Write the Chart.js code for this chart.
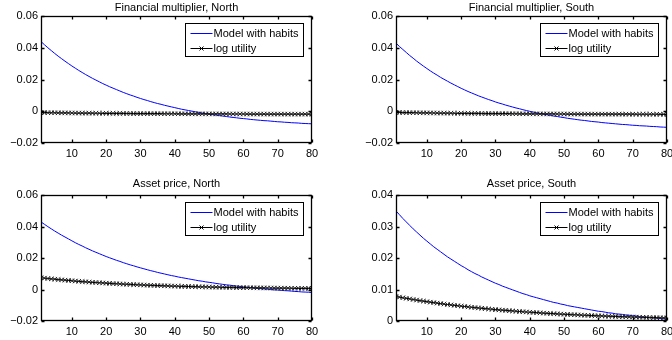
<!DOCTYPE html>
<html>
<head>
<meta charset="utf-8">
<script src="https://cdn.jsdelivr.net/npm/chart.js@4.4.0/dist/chart.umd.min.js"></script>
<style>
    body { margin: 0; background: #fff; }
    .panel { position: absolute; }
</style>
</head>
<body>
<div class="panel" style="left:0;top:0;width:336px;height:170px"><canvas id="fmNorthChart"></canvas></div>
<div class="panel" style="left:336px;top:0;width:336px;height:170px"><canvas id="fmSouthChart"></canvas></div>
<div class="panel" style="left:0;top:176px;width:336px;height:164px"><canvas id="apNorthChart"></canvas></div>
<div class="panel" style="left:336px;top:176px;width:336px;height:164px"><canvas id="apSouthChart"></canvas></div>
<script>
// quarters after the shock
const periods = Array.from({ length: 80 }, (_, i) => i + 1);
const xTicks = [10, 20, 30, 40, 50, 60, 70, 80];

const yTicksWide = [-0.02, 0, 0.02, 0.04, 0.06];
const yLabelsWide = ['−0.02', '0', '0.02', '0.04', '0.06'];
const yTicksSmall = [0, 0.01, 0.02, 0.03, 0.04];
const yLabelsSmall = ['0', '0.01', '0.02', '0.03', '0.04'];

const seriesNames = ['Model with habits', 'log utility'];

// Financial multiplier, North
const fmNorthHabits = [
    0.0440, 0.0420, 0.0401, 0.0383, 0.0365, 0.0348, 0.0332, 0.0316, 0.0301, 0.0286,
    0.0272, 0.0258, 0.0245, 0.0232, 0.0220, 0.0208, 0.0197, 0.0186, 0.0175, 0.0165,
    0.0155, 0.0146, 0.0137, 0.0128, 0.0119, 0.0111, 0.0103, 0.0096, 0.0088, 0.0081,
    0.0074, 0.0068, 0.0061, 0.0055, 0.0049, 0.0044, 0.0038, 0.0033, 0.0028, 0.0023,
    0.0018, 0.0013, 0.0009, 0.0005, 0.0001, -0.0003, -0.0007, -0.0011, -0.0014, -0.0018,
    -0.0021, -0.0024, -0.0027, -0.0030, -0.0033, -0.0036, -0.0039, -0.0041, -0.0044, -0.0046,
    -0.0048, -0.0051, -0.0053, -0.0055, -0.0057, -0.0059, -0.0060, -0.0062, -0.0064, -0.0066,
    -0.0067, -0.0069, -0.0070, -0.0072, -0.0073, -0.0074, -0.0076, -0.0077, -0.0078, -0.0079
];
const fmNorthLog = [
    -0.00080, -0.00083, -0.00087, -0.00090, -0.00093, -0.00096, -0.00098, -0.00101, -0.00104, -0.00106,
    -0.00109, -0.00111, -0.00114, -0.00116, -0.00118, -0.00120, -0.00122, -0.00124, -0.00126, -0.00128,
    -0.00130, -0.00132, -0.00134, -0.00135, -0.00137, -0.00139, -0.00140, -0.00142, -0.00143, -0.00145,
    -0.00146, -0.00147, -0.00148, -0.00150, -0.00151, -0.00152, -0.00153, -0.00154, -0.00155, -0.00156,
    -0.00157, -0.00158, -0.00159, -0.00160, -0.00161, -0.00162, -0.00163, -0.00163, -0.00164, -0.00165,
    -0.00166, -0.00166, -0.00167, -0.00168, -0.00168, -0.00169, -0.00170, -0.00170, -0.00171, -0.00171,
    -0.00172, -0.00173, -0.00173, -0.00174, -0.00174, -0.00175, -0.00175, -0.00176, -0.00176, -0.00176,
    -0.00177, -0.00177, -0.00178, -0.00178, -0.00178, -0.00179, -0.00179, -0.00179, -0.00179, -0.00180
];

// Financial multiplier, South
const fmSouthHabits = [
    0.0430, 0.0409, 0.0390, 0.0371, 0.0352, 0.0335, 0.0317, 0.0301, 0.0285, 0.0270,
    0.0255, 0.0241, 0.0228, 0.0214, 0.0202, 0.0190, 0.0178, 0.0167, 0.0156, 0.0145,
    0.0135, 0.0125, 0.0116, 0.0107, 0.0098, 0.0090, 0.0082, 0.0074, 0.0067, 0.0059,
    0.0052, 0.0046, 0.0039, 0.0033, 0.0027, 0.0021, 0.0016, 0.0010, 0.0005, 0.0000,
    -0.0005, -0.0009, -0.0014, -0.0018, -0.0022, -0.0026, -0.0030, -0.0033, -0.0037, -0.0040,
    -0.0044, -0.0047, -0.0050, -0.0053, -0.0056, -0.0058, -0.0061, -0.0064, -0.0066, -0.0068,
    -0.0071, -0.0073, -0.0075, -0.0077, -0.0079, -0.0081, -0.0083, -0.0084, -0.0086, -0.0088,
    -0.0089, -0.0091, -0.0092, -0.0093, -0.0095, -0.0096, -0.0097, -0.0099, -0.0100, -0.0101
];
const fmSouthLog = [
    -0.00070, -0.00074, -0.00078, -0.00081, -0.00085, -0.00088, -0.00092, -0.00095, -0.00098, -0.00101,
    -0.00104, -0.00107, -0.00110, -0.00113, -0.00115, -0.00118, -0.00120, -0.00123, -0.00125, -0.00127,
    -0.00129, -0.00131, -0.00134, -0.00136, -0.00137, -0.00139, -0.00141, -0.00143, -0.00145, -0.00146,
    -0.00148, -0.00149, -0.00151, -0.00152, -0.00154, -0.00155, -0.00157, -0.00158, -0.00159, -0.00160,
    -0.00162, -0.00163, -0.00164, -0.00165, -0.00166, -0.00167, -0.00168, -0.00169, -0.00170, -0.00171,
    -0.00172, -0.00173, -0.00173, -0.00174, -0.00175, -0.00176, -0.00176, -0.00177, -0.00178, -0.00178,
    -0.00179, -0.00180, -0.00180, -0.00181, -0.00182, -0.00182, -0.00183, -0.00183, -0.00184, -0.00184,
    -0.00185, -0.00185, -0.00186, -0.00186, -0.00186, -0.00187, -0.00187, -0.00188, -0.00188, -0.00188
];

// Asset price, North
const apNorthHabits = [
    0.0430, 0.0415, 0.0400, 0.0386, 0.0372, 0.0359, 0.0346, 0.0334, 0.0322, 0.0310,
    0.0298, 0.0287, 0.0277, 0.0266, 0.0256, 0.0246, 0.0237, 0.0228, 0.0219, 0.0210,
    0.0202, 0.0194, 0.0186, 0.0179, 0.0171, 0.0164, 0.0157, 0.0151, 0.0144, 0.0138,
    0.0132, 0.0126, 0.0120, 0.0115, 0.0109, 0.0104, 0.0099, 0.0094, 0.0089, 0.0085,
    0.0080, 0.0076, 0.0072, 0.0068, 0.0064, 0.0060, 0.0056, 0.0053, 0.0049, 0.0046,
    0.0043, 0.0039, 0.0036, 0.0033, 0.0030, 0.0028, 0.0025, 0.0022, 0.0020, 0.0017,
    0.0015, 0.0013, 0.0010, 0.0008, 0.0006, 0.0004, 0.0002, 0.0000, -0.0002, -0.0003,
    -0.0005, -0.0007, -0.0008, -0.0010, -0.0012, -0.0013, -0.0015, -0.0016, -0.0017, -0.0019
];
const apNorthLog = [
    0.00750, 0.00726, 0.00703, 0.00680, 0.00658, 0.00637, 0.00617, 0.00597, 0.00578, 0.00560,
    0.00542, 0.00525, 0.00508, 0.00492, 0.00476, 0.00461, 0.00447, 0.00433, 0.00419, 0.00406,
    0.00393, 0.00381, 0.00369, 0.00357, 0.00346, 0.00336, 0.00325, 0.00315, 0.00305, 0.00296,
    0.00287, 0.00278, 0.00270, 0.00261, 0.00253, 0.00246, 0.00238, 0.00231, 0.00224, 0.00217,
    0.00211, 0.00205, 0.00198, 0.00193, 0.00187, 0.00181, 0.00176, 0.00171, 0.00166, 0.00161,
    0.00156, 0.00152, 0.00148, 0.00143, 0.00139, 0.00135, 0.00132, 0.00128, 0.00124, 0.00121,
    0.00118, 0.00114, 0.00111, 0.00108, 0.00105, 0.00103, 0.00100, 0.00097, 0.00095, 0.00092,
    0.00090, 0.00087, 0.00085, 0.00083, 0.00081, 0.00079, 0.00077, 0.00075, 0.00073, 0.00072
];

// Asset price, South
const apSouthHabits = [
    0.0350, 0.0338, 0.0326, 0.0315, 0.0304, 0.0293, 0.0283, 0.0273, 0.0263, 0.0254,
    0.0245, 0.0236, 0.0228, 0.0220, 0.0212, 0.0204, 0.0197, 0.0190, 0.0183, 0.0176,
    0.0170, 0.0163, 0.0157, 0.0151, 0.0146, 0.0140, 0.0135, 0.0130, 0.0125, 0.0120,
    0.0116, 0.0111, 0.0107, 0.0103, 0.0099, 0.0095, 0.0091, 0.0087, 0.0084, 0.0080,
    0.0077, 0.0074, 0.0071, 0.0068, 0.0065, 0.0062, 0.0059, 0.0057, 0.0054, 0.0052,
    0.0049, 0.0047, 0.0045, 0.0043, 0.0041, 0.0039, 0.0037, 0.0035, 0.0033, 0.0031,
    0.0030, 0.0028, 0.0026, 0.0025, 0.0023, 0.0022, 0.0021, 0.0019, 0.0018, 0.0017,
    0.0016, 0.0014, 0.0013, 0.0012, 0.0011, 0.0010, 0.0009, 0.0008, 0.0007, 0.0006
];
const apSouthLog = [
    0.00780, 0.00760, 0.00740, 0.00721, 0.00702, 0.00684, 0.00666, 0.00649, 0.00632, 0.00615,
    0.00599, 0.00584, 0.00569, 0.00554, 0.00539, 0.00525, 0.00512, 0.00498, 0.00485, 0.00473,
    0.00461, 0.00449, 0.00437, 0.00426, 0.00415, 0.00404, 0.00393, 0.00383, 0.00373, 0.00363,
    0.00354, 0.00345, 0.00336, 0.00327, 0.00319, 0.00310, 0.00302, 0.00294, 0.00287, 0.00279,
    0.00272, 0.00265, 0.00258, 0.00251, 0.00245, 0.00238, 0.00232, 0.00226, 0.00220, 0.00215,
    0.00209, 0.00204, 0.00198, 0.00193, 0.00188, 0.00183, 0.00178, 0.00174, 0.00169, 0.00165,
    0.00161, 0.00156, 0.00152, 0.00148, 0.00145, 0.00141, 0.00137, 0.00134, 0.00130, 0.00127,
    0.00123, 0.00120, 0.00117, 0.00114, 0.00111, 0.00108, 0.00105, 0.00103, 0.00100, 0.00097
];

Chart.defaults.font.family = '"Liberation Sans", Arial, Helvetica, sans-serif';
Chart.defaults.font.size = 11;
Chart.defaults.color = '#000';

// matlab style box with inward ticks on all four sides
const boxFrame = {
    id: 'boxFrame',
    afterDatasetsDraw(chart) {
        const { ctx, chartArea: a, scales } = chart;
        const l = Math.round(a.left) + 0.5, r = Math.round(a.right) - 0.5;
        const t = Math.round(a.top) + 0.5, b = Math.round(a.bottom) - 0.5;
        ctx.save();
        ctx.strokeStyle = '#000';
        ctx.lineWidth = 1.3;
        ctx.beginPath();
        scales.x.ticks.forEach(tk => {
            const px = Math.round(scales.x.getPixelForValue(tk.value)) + 0.5;
            ctx.moveTo(px, b); ctx.lineTo(px, b - 3);
            ctx.moveTo(px, t); ctx.lineTo(px, t + 3);
        });
        scales.y.ticks.forEach(tk => {
            const py = Math.round(scales.y.getPixelForValue(tk.value)) + 0.5;
            ctx.moveTo(l, py); ctx.lineTo(l + 3, py);
            ctx.moveTo(r, py); ctx.lineTo(r - 3, py);
        });
        ctx.stroke();
        ctx.strokeRect(l, t, r - l, b - t);
        ctx.restore();
    }
};

const boxLegend = {
    id: 'boxLegend',
    afterDraw(chart) {
        const { ctx, chartArea: a } = chart;
        const w = 118, h = 33;
        const x0 = Math.round(a.right) - 9 - w + 0.5;
        const y0 = Math.round(a.top) + 7 + 0.5;
        ctx.save();
        ctx.fillStyle = '#fff';
        ctx.fillRect(x0, y0, w, h);
        ctx.strokeStyle = '#000';
        ctx.lineWidth = 1;
        ctx.strokeRect(x0, y0, w, h);
        chart.data.datasets.forEach((ds, i) => {
            const y = y0 + 10 + i * 15;
            ctx.strokeStyle = ds.borderColor;
            ctx.lineWidth = 1;
            ctx.beginPath();
            ctx.moveTo(x0 + 5, y);
            ctx.lineTo(x0 + 27, y);
            if (ds.pointRadius > 0) {
                const cx = x0 + 16;
                ctx.moveTo(cx - 2, y - 2); ctx.lineTo(cx + 2, y + 2);
                ctx.moveTo(cx - 2, y + 2); ctx.lineTo(cx + 2, y - 2);
            }
            ctx.stroke();
            ctx.fillStyle = '#000';
            ctx.font = '11px "Liberation Sans", Arial, sans-serif';
            ctx.textBaseline = 'middle';
            ctx.fillText(ds.label, x0 + 28, y + 0.5);
        });
        ctx.restore();
    }
};

function drawPanel(canvasId, title, habits, logUtil, yMin, yMax, yTicks, yLabels, axisW, axisH, padRight, titleGap) {
    const ctx = document.getElementById(canvasId);

    new Chart(ctx, {
        type: 'line',
        data: {
            datasets: [{
                label: seriesNames[0],
                data: periods.map((t, i) => ({ x: t, y: habits[i] })),
                borderColor: '#0000ff',
                borderWidth: 1,
                pointRadius: 0,
                tension: 0,
                order: 1,
            }, {
                label: seriesNames[1],
                data: periods.map((t, i) => ({ x: t, y: logUtil[i] })),
                borderColor: '#000',
                borderWidth: 1.2,
                pointStyle: 'crossRot',
                pointRadius: 3.2,
                pointBorderWidth: 1,
                pointBorderColor: '#222',
                tension: 0,
                order: 0,
            }]
        },
        options: {
            responsive: true,
            maintainAspectRatio: false,
            animation: false,
            layout: { padding: { left: 0, right: padRight, top: 0, bottom: 0 } },
            plugins: {
                legend: { display: false },
                tooltip: { enabled: false },
                title: {
                    display: true,
                    text: title,
                    fullSize: false,
                    color: '#000',
                    font: { size: 11, weight: 'normal' },
                    padding: { top: 1, bottom: titleGap }
                }
            },
            scales: {
                x: {
                    type: 'linear',
                    min: 1,
                    max: 80,
                    grid: { display: false, drawTicks: false },
                    border: { display: false },
                    ticks: { padding: 4, maxRotation: 0, font: { size: 11 } },
                    afterBuildTicks: scale => { scale.ticks = xTicks.map(v => ({ value: v })); },
                    afterFit: scale => {
                        scale.height = axisH;
                        scale.paddingLeft = 0;
                        scale.paddingRight = 0;
                    }
                },
                y: {
                    min: yMin,
                    max: yMax,
                    grid: { display: false, drawTicks: false },
                    border: { display: false },
                    ticks: {
                        padding: 3,
                        font: { size: 11 },
                        callback: (v, i) => yLabels[i]
                    },
                    afterBuildTicks: scale => { scale.ticks = yTicks.map(v => ({ value: v })); },
                    afterFit: scale => {
                        scale.width = axisW;
                        scale.paddingTop = 0;
                        scale.paddingBottom = 0;
                    }
                }
            }
        },
        plugins: [boxFrame, boxLegend]
    });
}

drawPanel('fmNorthChart', 'Financial multiplier, North', fmNorthHabits, fmNorthLog, -0.02, 0.06, yTicksWide, yLabelsWide, 41, 27, 24, 2);
drawPanel('fmSouthChart', 'Financial multiplier, South', fmSouthHabits, fmSouthLog, -0.02, 0.06, yTicksWide, yLabelsWide, 60, 27, 4, 2);
drawPanel('apNorthChart', 'Asset price, North', apNorthHabits, apNorthLog, -0.02, 0.06, yTicksWide, yLabelsWide, 41, 19, 24, 5);
drawPanel('apSouthChart', 'Asset price, South', apSouthHabits, apSouthLog, 0, 0.04, yTicksSmall, yLabelsSmall, 60, 19, 4, 5);
</script>
</body>
</html>
